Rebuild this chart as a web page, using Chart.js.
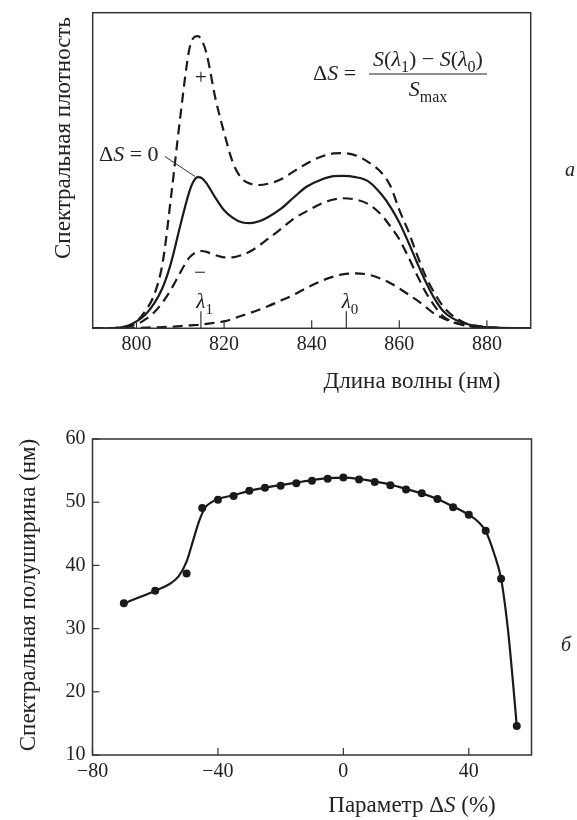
<!DOCTYPE html>
<html><head><meta charset="utf-8">
<script src="https://cdn.jsdelivr.net/npm/chart.js@4.4.1/dist/chart.umd.min.js"></script>
<style>
html,body{margin:0;padding:0;background:#fff;}
#wrap{position:relative;width:577px;height:820px;overflow:hidden;}
.box{position:absolute;left:0;width:577px;}
</style></head><body>
<div id="wrap">
<div class="box" style="top:0;height:400px"><canvas id="c1" width="577" height="400"></canvas></div>
<div class="box" style="top:400px;height:420px"><canvas id="c2" width="577" height="420"></canvas></div>
</div>
<script>
// ---------- Top chart data (spectral density, arbitrary units) ----------
const wavelength = [790, 795, 798, 800, 802, 804, 806, 808, 810, 812, 813, 814, 815, 816, 818, 820, 822, 824, 826, 828, 830, 833, 836, 839, 842, 845, 847, 850, 853, 856, 858, 860, 862, 864, 866, 868, 870, 872, 875, 878, 882, 890];
const curvePlus  = [0, 0.1, 0.6, 2.1, 5.5, 10.5, 21, 43, 67, 88, 92, 92.6, 91, 87, 73, 62, 52.5, 47.5, 45.8, 45.4, 45.8, 47.2, 49.8, 52.3, 54.3, 55.4, 55.5, 54.8, 52.6, 49.2, 45, 37.5, 31, 23.5, 16.5, 11.2, 7, 4.2, 1.7, 0.7, 0.2, 0];
const curveZero  = [0, 0.1, 0.8, 2.2, 4.3, 7.8, 13, 21.3, 32.6, 43, 46.5, 47.9, 47.5, 45.9, 41.4, 37.4, 35, 33.6, 33.3, 33.9, 35.2, 37.9, 41.6, 45, 47, 48.2, 48.3, 47.9, 46.5, 42.3, 38.4, 33.5, 27.5, 21, 14.8, 9.5, 5.5, 3.3, 1.5, 0.6, 0.2, 0];
const curveMinus = [0, 0.1, 0.5, 1.2, 2.8, 5, 8.3, 12.6, 17.7, 22.3, 23.6, 24.3, 24.5, 24.2, 23.2, 22.5, 22.5, 23.2, 24.4, 26.2, 28.3, 31.5, 34.8, 37.2, 39.4, 40.8, 41.2, 40.8, 39.3, 35.8, 32.2, 28.2, 22.8, 17, 11.5, 7.2, 3.8, 2.2, 0.9, 0.3, 0.1, 0];
const curveLow   = [0, 0, 0, 0.1, 0.2, 0.3, 0.4, 0.5, 0.7, 0.9, 1.0, 1.1, 1.2, 1.4, 1.8, 2.2, 3.0, 4.0, 4.9, 5.9, 7.0, 8.8, 10.7, 12.9, 14.9, 16.4, 17.1, 17.4, 17.0, 15.6, 14.3, 12.6, 10.8, 8.9, 6.8, 4.6, 3.2, 2.0, 1.0, 0.4, 0.1, 0];
const wlTicks = [800, 820, 840, 860, 880];
const lambda1 = 814.7, lambda0 = 847.9;

// ---------- Bottom chart data ----------
const dsValues   = [-70, -60, -50, -45, -40, -35, -30, -25, -20, -15, -10, -5, 0, 5, 10, 15, 20, 25, 30, 35, 40, 45.4, 50.3, 55.3];
const fwhmValues = [34.0, 36.0, 38.7, 49.1, 50.4, 51.0, 51.8, 52.3, 52.6, 53.0, 53.4, 53.7, 53.9, 53.6, 53.2, 52.7, 52.0, 51.4, 50.5, 49.2, 48.0, 45.5, 37.9, 14.6];
const fitDs   = [-70, -60, -55, -52.5, -50, -48, -46, -44, -42, -40, -35, -30, -25, -20, -15, -10, -5, 0, 5, 10, 15, 20, 25, 30, 35, 40, 43, 45.4, 48, 50.3, 52.5, 54, 55.3];
const fitFwhm = [34, 36, 37.2, 38.3, 40.6, 43.8, 47, 49.2, 50, 50.5, 51.1, 51.8, 52.3, 52.7, 53.1, 53.5, 53.8, 53.9, 53.7, 53.3, 52.8, 52.1, 51.4, 50.5, 49.3, 48.0, 46.9, 45.4, 42, 37.9, 29.8, 22, 14.6];
const dsTicks = [-80, -40, 0, 40];
const fwhmTicks = [10, 20, 30, 40, 50, 60];

const FONT = '"Liberation Serif", "Times New Roman", serif';
const INK = '#222';
const LINE = '#1a1a1a';

function fontFor(p, size) {
  const s = p.sub ? Math.round(size * 0.72) : size;
  return (p.it ? 'italic ' : '') + s + 'px ' + FONT;
}
function richWidth(ctx, parts, size) {
  let w = 0;
  parts.forEach(p => { ctx.font = fontFor(p, size); w += ctx.measureText(p.t).width; });
  return w;
}
function rich(ctx, x, y, parts, size, align) {
  ctx.save();
  ctx.fillStyle = INK;
  ctx.textBaseline = 'alphabetic';
  ctx.textAlign = 'left';
  const total = richWidth(ctx, parts, size);
  let cx = align === 'center' ? x - total / 2 : (align === 'right' ? x - total : x);
  parts.forEach(p => {
    ctx.font = fontFor(p, size);
    ctx.fillText(p.t, cx, y + (p.sub ? size * 0.28 : 0));
    cx += ctx.measureText(p.t).width;
  });
  ctx.restore();
}
function vtext(ctx, x, y, text, size) {
  ctx.save();
  ctx.translate(x, y);
  ctx.rotate(-Math.PI / 2);
  ctx.font = size + 'px ' + FONT;
  ctx.fillStyle = INK;
  ctx.textAlign = 'center';
  ctx.textBaseline = 'middle';
  ctx.fillText(text, 0, 0);
  ctx.restore();
}
function frame(ctx, a) {
  ctx.save();
  ctx.strokeStyle = '#333';
  ctx.lineWidth = 1.5;
  ctx.strokeRect(a.left, a.top, a.right - a.left, a.bottom - a.top);
  ctx.restore();
}
function minusFmt(v) { return v < 0 ? '\u2212' + Math.abs(v) : String(v); }

const topPlugin = {
  id: 'topDecor',
  afterDraw(chart) {
    const ctx = chart.ctx, a = chart.chartArea, xs = chart.scales.x;
    frame(ctx, a);
    ctx.save();
    ctx.strokeStyle = '#333';
    ctx.lineWidth = 1.2;
    wlTicks.forEach(v => {
      const px = xs.getPixelForValue(v);
      ctx.beginPath(); ctx.moveTo(px, a.bottom); ctx.lineTo(px, a.bottom - 8); ctx.stroke();
    });
    [lambda1, lambda0].forEach(v => {
      const px = xs.getPixelForValue(v);
      ctx.beginPath(); ctx.moveTo(px, a.bottom); ctx.lineTo(px, a.bottom - 17); ctx.stroke();
    });
    // leader line for ΔS = 0
    ctx.lineWidth = 1;
    ctx.beginPath(); ctx.moveTo(165, 156.5); ctx.lineTo(195, 176.5); ctx.stroke();
    ctx.restore();

    // lambda labels
    [[lambda1, '1'], [lambda0, '0']].forEach(([v, s]) => {
      const px = xs.getPixelForValue(v);
      ctx.font = 'italic 21px ' + FONT;
      const wl = ctx.measureText('\u03bb').width;
      rich(ctx, px - wl / 2, 308, [{t: '\u03bb', it: true}, {t: s, sub: true}], 21, 'left');
    });
    // + and − marks
    ctx.save();
    ctx.fillStyle = INK; ctx.font = '21px ' + FONT; ctx.textAlign = 'center'; ctx.textBaseline = 'middle';
    ctx.fillText('+', 201, 78);
    ctx.fillText('\u2212', 200, 273);
    ctx.restore();
    // ΔS = 0
    rich(ctx, 99, 161, [{t: '\u0394'}, {t: 'S', it: true}, {t: ' = 0'}], 22, 'left');
    // formula
    rich(ctx, 313, 80, [{t: '\u0394'}, {t: 'S', it: true}, {t: ' ='}], 22, 'left');
    rich(ctx, 428, 66, [{t: 'S', it: true}, {t: '('}, {t: '\u03bb', it: true}, {t: '1', sub: true}, {t: ') \u2212 '}, {t: 'S', it: true}, {t: '('}, {t: '\u03bb', it: true}, {t: '0', sub: true}, {t: ')'}], 22, 'center');
    ctx.save(); ctx.strokeStyle = INK; ctx.lineWidth = 1.2;
    ctx.beginPath(); ctx.moveTo(369, 74); ctx.lineTo(487, 74); ctx.stroke(); ctx.restore();
    rich(ctx, 428, 96, [{t: 'S', it: true}, {t: 'max', sub: true}], 22, 'center');
    // panel letter
    rich(ctx, 570, 176, [{t: '\u0430', it: true}], 20, 'center');
    // axis titles
    vtext(ctx, 64, 138, 'Спектральная плотность', 23);
    rich(ctx, 412, 388, [{t: 'Длина волны (нм)'}], 23, 'center');
  }
};

const bottomPlugin = {
  id: 'bottomDecor',
  afterDraw(chart) {
    const ctx = chart.ctx, a = chart.chartArea, xs = chart.scales.x, ys = chart.scales.y;
    frame(ctx, a);
    ctx.save();
    ctx.strokeStyle = '#333';
    ctx.lineWidth = 1.2;
    dsTicks.forEach(v => {
      const px = xs.getPixelForValue(v);
      ctx.beginPath(); ctx.moveTo(px, a.bottom); ctx.lineTo(px, a.bottom - 7); ctx.stroke();
    });
    fwhmTicks.forEach(v => {
      const py = ys.getPixelForValue(v);
      ctx.beginPath(); ctx.moveTo(a.left, py); ctx.lineTo(a.left + 7, py); ctx.stroke();
    });
    ctx.restore();
    vtext(ctx, 29, 195, 'Спектральная полуширина (нм)', 23);
    rich(ctx, 412, 412, [{t: 'Параметр \u0394'}, {t: 'S', it: true}, {t: ' (%)'}], 23, 'center');
    rich(ctx, 566, 251, [{t: '\u0431', it: true}], 20, 'center');
  }
};

const tickFont = {family: FONT, size: 20};

new Chart(document.getElementById('c1'), {
  type: 'scatter',
  data: {
    datasets: [
      {data: wavelength.map((x, i) => ({x, y: curvePlus[i]})), borderDash: [10, 6]},
      {data: wavelength.map((x, i) => ({x, y: curveZero[i]})), borderDash: []},
      {data: wavelength.map((x, i) => ({x, y: curveMinus[i]})), borderDash: [10, 6]},
      {data: wavelength.map((x, i) => ({x, y: curveLow[i]})), borderDash: [10, 6]}
    ].map(d => Object.assign(d, {showLine: true, pointRadius: 0, borderColor: LINE, borderWidth: 2.2, fill: false, cubicInterpolationMode: 'monotone'}))
  },
  options: {
    responsive: false, animation: false, devicePixelRatio: 1,
    layout: {padding: {left: 0, top: 12.7, right: 46.3, bottom: 0}},
    plugins: {legend: {display: false}, tooltip: {enabled: false}},
    scales: {
      x: {
        type: 'linear', min: 790, max: 890,
        afterBuildTicks: s => { s.ticks = wlTicks.map(v => ({value: v})); },
        afterFit: s => { s.height = 71.7; },
        grid: {display: false, drawTicks: false}, border: {display: false},
        ticks: {font: tickFont, color: INK, padding: 4, maxRotation: 0, autoSkip: false}
      },
      y: {
        type: 'linear', min: 0, max: 100,
        afterFit: s => { s.width = 92.7; },
        grid: {display: false, drawTicks: false}, border: {display: false},
        ticks: {display: false}
      }
    }
  },
  plugins: [topPlugin]
});

new Chart(document.getElementById('c2'), {
  type: 'scatter',
  data: {
    datasets: [
      {data: dsValues.map((x, i) => ({x, y: fwhmValues[i]})), showLine: false, pointRadius: 4, pointBackgroundColor: LINE, pointBorderColor: LINE, pointBorderWidth: 0},
      {data: fitDs.map((x, i) => ({x, y: fitFwhm[i]})), showLine: true, pointRadius: 0, borderColor: LINE, borderWidth: 2.2, fill: false, cubicInterpolationMode: 'monotone'}
    ]
  },
  options: {
    responsive: false, animation: false, devicePixelRatio: 1,
    layout: {padding: {left: 0, top: 39, right: 45.5, bottom: 0}},
    plugins: {legend: {display: false}, tooltip: {enabled: false}},
    scales: {
      x: {
        type: 'linear', min: -80, max: 60,
        afterBuildTicks: s => { s.ticks = dsTicks.map(v => ({value: v})); },
        afterFit: s => { s.height = 65; },
        grid: {display: false, drawTicks: false}, border: {display: false},
        ticks: {font: tickFont, color: INK, padding: 5, maxRotation: 0, autoSkip: false, callback: v => minusFmt(v)}
      },
      y: {
        type: 'linear', min: 10, max: 60,
        afterBuildTicks: s => { s.ticks = fwhmTicks.map(v => ({value: v})); },
        afterFit: s => { s.width = 92.5; },
        grid: {display: false, drawTicks: false}, border: {display: false},
        ticks: {font: tickFont, color: INK, padding: 7, autoSkip: false}
      }
    }
  },
  plugins: [bottomPlugin]
});
</script>
</body></html>
